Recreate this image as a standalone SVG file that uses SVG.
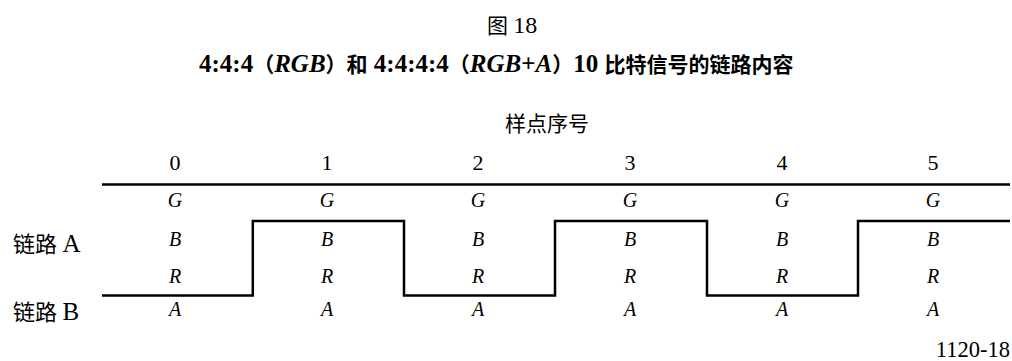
<svg xmlns="http://www.w3.org/2000/svg" width="1012" height="361" viewBox="0 0 1012 361">
<style>
text{font-family:"Liberation Serif","Noto Sans CJK SC",serif;fill:#000}
.num{font-size:22px;text-anchor:middle}
.sig{font-size:20px;font-style:italic;text-anchor:middle}
.lbl{font-size:22px}
.ln{fill:none;stroke:#000;stroke-width:2.5}
.lat{font-size:25px}
</style>
<rect width="1012" height="361" fill="#fff"/>
<g id="header">
<text x="512" y="33" font-size="21" text-anchor="middle">图 <tspan font-size="24">18</tspan></text>
<text x="199" y="72" font-size="21" font-weight="bold"><tspan class="lat">4:4:4</tspan>（<tspan class="lat" font-style="italic">RGB</tspan>）和<tspan class="lat"> 4:4:4:4</tspan>（<tspan class="lat" font-style="italic">RGB</tspan><tspan class="lat">+</tspan><tspan class="lat" font-style="italic">A</tspan>）<tspan class="lat">10 </tspan>比特信号的链路内容</text>
<text x="547" y="131" font-size="21" text-anchor="middle">样点序号</text>
</g>
<g id="columns">
<g id="col0"><text class="num" x="175" y="170">0</text><text class="sig" x="175" y="207">G</text><text class="sig" x="175" y="246">B</text><text class="sig" x="175" y="283">R</text><text class="sig" x="175" y="316">A</text></g>
<g id="col1"><text class="num" x="327" y="170">1</text><text class="sig" x="327" y="207">G</text><text class="sig" x="327" y="246">B</text><text class="sig" x="327" y="283">R</text><text class="sig" x="327" y="316">A</text></g>
<g id="col2"><text class="num" x="478" y="170">2</text><text class="sig" x="478" y="207">G</text><text class="sig" x="478" y="246">B</text><text class="sig" x="478" y="283">R</text><text class="sig" x="478" y="316">A</text></g>
<g id="col3"><text class="num" x="630" y="170">3</text><text class="sig" x="630" y="207">G</text><text class="sig" x="630" y="246">B</text><text class="sig" x="630" y="283">R</text><text class="sig" x="630" y="316">A</text></g>
<g id="col4"><text class="num" x="782" y="170">4</text><text class="sig" x="782" y="207">G</text><text class="sig" x="782" y="246">B</text><text class="sig" x="782" y="283">R</text><text class="sig" x="782" y="316">A</text></g>
<g id="col5"><text class="num" x="933" y="170">5</text><text class="sig" x="933" y="207">G</text><text class="sig" x="933" y="246">B</text><text class="sig" x="933" y="283">R</text><text class="sig" x="933" y="316">A</text></g>
</g>
<g id="labels">
<text class="lbl" x="13" y="252">链路 <tspan font-size="25">A</tspan></text>
<text class="lbl" x="13" y="320">链路 <tspan font-size="25">B</tspan></text>
</g>
<g id="connectors">
<path class="ln" d="M102,184.5 H1010"/>
<path class="ln" d="M102,295.5 H252.8 V221 H404 V295.5 H555 V221 H707 V295.5 H858 V221 H1010"/>
</g>
<text x="1010" y="357" font-size="22.5" text-anchor="end">1120-18</text>
</svg>
